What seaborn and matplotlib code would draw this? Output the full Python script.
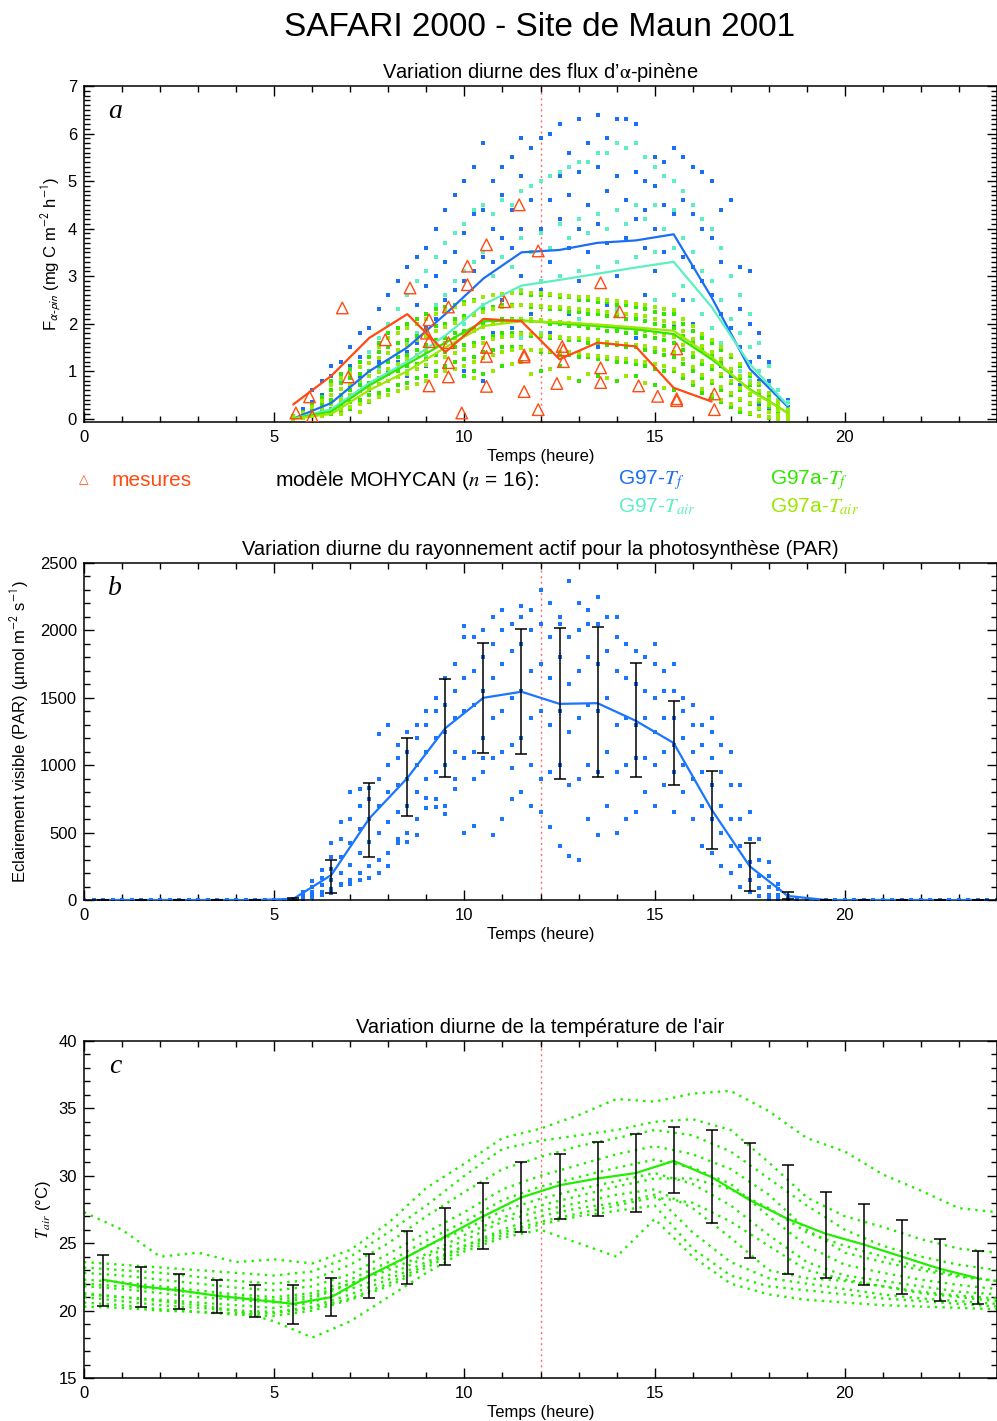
import numpy as np
import pandas as pd
import matplotlib
matplotlib.use("Agg")
import matplotlib.pyplot as plt
import seaborn as sns
from matplotlib.ticker import MultipleLocator

# ---------------- DATA ----------------
# Panel a : alpha-pinene fluxes (mg C m-2 h-1)
flux_hours = [5.5, 6.5, 7.5, 8.5, 9.5, 10.5, 11.5, 12.5, 13.5, 14.5, 15.5, 16.5, 17.5, 18.5]
g97_tf_line = [0.0, 0.33, 1.0, 1.5, 2.2, 2.95, 3.5, 3.55, 3.7, 3.75, 3.88, 2.55, 1.05, 0.25]
g97_tair_line = [0.0, 0.2, 0.75, 1.2, 1.75, 2.4, 2.8, 2.92, 3.05, 3.18, 3.3, 2.35, 1.15, 0.28]
g97a_tf_line = [0.0, 0.15, 0.7, 1.15, 1.6, 2.05, 2.07, 2.0, 1.95, 1.88, 1.78, 1.25, 0.62, 0.12]
g97a_tair_line = [0.0, 0.1, 0.6, 1.0, 1.5, 1.95, 2.05, 2.03, 1.98, 1.92, 1.85, 1.3, 0.6, 0.12]

mes_hours = [5.5, 6.5, 7.5, 8.5, 9.5, 10.5, 11.5, 12.5, 13.5, 14.5, 15.5, 16.5]
mes_line = [0.3, 0.9, 1.7, 2.2, 1.4, 2.1, 2.05, 1.25, 1.6, 1.52, 0.65, 0.36]

mes_t = [5.57, 5.93, 6.0, 6.79, 6.95, 7.92, 8.57, 9.07, 9.0, 9.07, 9.07, 9.58, 9.58, 9.58, 9.58,
         9.93, 10.08, 10.08, 10.58, 10.58, 10.58, 10.58, 11.05, 11.44, 11.57, 11.57, 11.57,
         11.94, 11.94, 12.43, 12.57, 12.6, 12.6, 13.58, 13.58, 13.58, 14.08, 14.58, 15.08,
         15.58, 15.58, 15.58, 16.57, 16.57]
mes_v = [0.12, 0.46, 0.05, 2.33, 0.88, 1.66, 2.75, 2.08, 1.8, 1.62, 0.69, 2.35, 1.6, 1.18, 0.88,
         0.12, 3.21, 2.82, 3.66, 1.5, 1.31, 0.68, 2.46, 4.5, 1.34, 1.3, 0.57,
         3.53, 0.19, 0.74, 1.52, 1.45, 1.2, 2.86, 1.07, 0.76, 2.25, 0.69, 0.47,
         1.47, 0.42, 0.38, 0.52, 0.19]

flux_dot_times = np.arange(5.5, 18.51, 0.25)
g97_tf_dots = [
    [0.02, 0.05, 0.0], [0.1, 0.2, 0.05], [0.35, 0.15, 0.6], [0.5, 0.3, 0.8],
    [0.9, 0.4, 0.6, 1.1], [1.2, 0.5, 0.9], [1.5, 0.7, 1.1], [1.8, 0.9, 1.3],
    [1.9, 1.0, 1.4, 0.6], [2.3, 1.2, 1.6], [2.6, 1.5, 1.0], [2.9, 1.8, 1.2],
    [3.2, 2.0, 1.4, 0.9], [3.4, 2.4, 1.6], [3.6, 2.8, 1.9, 1.1], [4.0, 3.0, 2.1],
    [4.4, 3.3, 2.5, 1.3], [4.7, 3.5, 2.7], [5.0, 3.9, 2.9, 1.0], [5.3, 4.3, 3.1, 1.6],
    [5.8, 4.4, 3.4, 2.3, 0.8], [5.0, 4.0, 3.3, 1.8], [5.3, 4.7, 3.8, 2.5], [5.5, 4.4, 3.6, 1.9],
    [5.9, 5.1, 4.0, 3.0, 1.2], [5.7, 4.6, 3.5, 2.2], [5.9, 5.0, 4.0, 2.7, 1.0], [6.0, 4.6, 3.3, 1.8],
    [6.2, 5.1, 4.2, 3.0, 1.4], [5.6, 4.7, 3.6, 2.2], [6.3, 5.2, 4.0, 2.9], [5.8, 4.5, 3.5, 1.9],
    [6.4, 5.3, 4.1, 3.2, 1.5], [5.9, 4.8, 3.7, 2.4], [6.3, 5.1, 4.4, 3.0], [6.3, 4.6, 3.8, 2.1],
    [6.2, 5.2, 4.2, 3.4, 1.7], [5.0, 4.4, 3.6, 2.6], [5.5, 4.9, 4.0, 3.1], [5.4, 4.5, 3.5, 2.3],
    [5.7, 5.0, 4.3, 3.6, 2.0], [5.5, 4.6, 3.4, 2.5], [5.3, 4.3, 3.2, 2.0], [5.2, 4.0, 2.9, 1.7],
    [5.0, 3.8, 2.6, 1.3], [4.4, 3.3, 2.2, 1.1], [4.6, 3.0, 1.9, 0.9], [3.2, 2.3, 1.5, 0.7],
    [3.1, 2.0, 1.2, 0.5], [1.8, 1.3, 0.8, 0.3], [1.2, 0.8, 0.5, 0.2], [0.6, 0.4, 0.2],
    [0.4, 0.25, 0.1]]
g97_tair_dots = [
    [0.0, 0.02], [0.1, 0.05], [0.25, 0.1], [0.4, 0.2], [0.6, 0.3, 0.15], [0.8, 0.45],
    [1.0, 0.6, 0.35], [1.2, 0.75], [1.4, 0.9, 0.5], [1.7, 1.05], [2.0, 1.2, 0.8], [2.3, 1.4],
    [2.6, 1.6, 1.0], [2.9, 1.8], [3.1, 2.1, 1.3], [3.4, 2.4], [3.7, 2.6, 1.6], [3.9, 2.9],
    [4.1, 3.1, 2.0], [4.4, 3.3], [4.5, 3.5, 2.4, 1.4], [4.3, 3.0, 2.0], [4.6, 3.4, 2.6],
    [4.5, 3.2], [4.8, 3.8, 2.7, 1.7], [4.9, 3.5], [5.0, 3.9, 2.9, 1.8], [5.1, 3.6],
    [5.2, 4.1, 3.0, 2.0], [5.3, 3.8], [5.4, 4.2, 3.1, 2.1], [5.4, 3.9], [5.6, 4.3, 3.2, 2.2],
    [5.6, 4.0], [5.8, 4.4, 3.3, 2.3], [5.7, 4.1], [5.8, 4.5, 3.4, 2.4], [5.5, 4.2],
    [5.3, 4.5, 3.5, 2.5], [5.1, 4.0], [5.0, 4.4, 3.6, 2.6], [4.8, 3.8, 2.8], [4.5, 3.5, 2.5],
    [4.2, 3.1, 2.2], [4.0, 2.9, 1.9], [3.6, 2.5, 1.6], [3.0, 2.1, 1.3], [2.6, 1.8, 1.0],
    [2.2, 1.5, 0.8], [1.6, 1.0, 0.5], [1.1, 0.7, 0.3], [0.6, 0.4, 0.15], [0.35, 0.2, 0.05]]
g97a_tf_dots = [
    [0.0, 0.02, 0.05], [0.05, 0.1, 0.15], [0.1, 0.2, 0.3, 0.05], [0.15, 0.3, 0.45, 0.1],
    [0.2, 0.4, 0.6, 0.8, 0.1], [0.3, 0.5, 0.75, 0.95, 0.15], [0.35, 0.6, 0.85, 1.05, 0.2],
    [0.4, 0.7, 0.95, 1.2, 0.3], [0.5, 0.75, 1.0, 1.3, 0.35], [0.55, 0.85, 1.1, 1.4, 1.6],
    [0.6, 0.95, 1.2, 1.5, 1.8], [0.7, 1.0, 1.3, 1.6, 1.9], [0.75, 1.1, 1.35, 1.65, 2.0],
    [0.85, 1.15, 1.45, 1.75, 2.1], [0.9, 1.25, 1.55, 1.85, 2.2], [1.0, 1.35, 1.65, 1.95, 2.3],
    [1.1, 1.4, 1.7, 2.0, 2.35], [1.2, 1.5, 1.8, 2.1, 2.4], [1.25, 1.55, 1.85, 2.15, 2.45, 0.9],
    [1.3, 1.6, 1.9, 2.2, 2.5, 1.0], [1.4, 1.7, 2.0, 2.3, 2.55, 0.95], [1.45, 1.75, 2.05, 2.35, 2.6],
    [1.5, 1.8, 2.1, 2.4, 2.6, 1.1], [1.5, 1.8, 2.1, 2.4, 2.65], [1.5, 1.8, 2.1, 2.4, 2.65, 1.2],
    [1.45, 1.75, 2.05, 2.35, 2.6], [1.4, 1.75, 2.05, 2.35, 2.6, 1.0], [1.4, 1.7, 2.0, 2.3, 2.6],
    [1.35, 1.7, 2.0, 2.3, 2.55, 1.1], [1.35, 1.65, 1.95, 2.25, 2.55], [1.3, 1.65, 1.95, 2.25, 2.5, 0.8],
    [1.3, 1.6, 1.9, 2.2, 2.5], [1.25, 1.6, 1.9, 2.2, 2.45, 0.9], [1.25, 1.55, 1.85, 2.15, 2.45],
    [1.2, 1.55, 1.85, 2.15, 2.4, 0.8], [1.2, 1.5, 1.8, 2.1, 2.4], [1.15, 1.5, 1.8, 2.1, 2.35, 0.9],
    [1.1, 1.45, 1.75, 2.05, 2.3], [1.05, 1.4, 1.7, 2.0, 2.25, 0.7], [1.0, 1.35, 1.65, 1.95, 2.2],
    [1.0, 1.3, 1.6, 1.9, 2.2, 0.6], [0.85, 1.15, 1.45, 1.75, 2.0], [0.7, 1.0, 1.3, 1.6, 1.85],
    [0.55, 0.85, 1.15, 1.45, 1.7], [0.45, 0.75, 1.05, 1.35, 1.6], [0.35, 0.6, 0.9, 1.2, 1.45],
    [0.25, 0.5, 0.75, 1.0, 1.3], [0.15, 0.4, 0.6, 0.85, 1.1], [0.1, 0.3, 0.5, 0.7, 0.9],
    [0.05, 0.2, 0.35, 0.55, 0.7], [0.02, 0.15, 0.25, 0.4, 0.5], [0.0, 0.08, 0.15, 0.25, 0.35],
    [0.0, 0.04, 0.1, 0.15]]
g97a_tair_dots = [
    [0.0, 0.03], [0.02, 0.08, 0.12], [0.05, 0.15, 0.25], [0.1, 0.22, 0.38, 0.05],
    [0.15, 0.3, 0.5, 0.7], [0.2, 0.4, 0.62, 0.85, 0.1], [0.25, 0.5, 0.72, 0.95],
    [0.3, 0.58, 0.82, 1.08, 0.15], [0.38, 0.65, 0.9, 1.18], [0.45, 0.72, 0.98, 1.28, 1.5],
    [0.5, 0.8, 1.05, 1.38, 1.7], [0.58, 0.88, 1.15, 1.45, 1.8], [0.65, 0.95, 1.25, 1.55, 1.9],
    [0.72, 1.05, 1.35, 1.65, 2.0], [0.8, 1.12, 1.42, 1.75, 2.1], [0.9, 1.2, 1.52, 1.85, 2.2],
    [1.0, 1.3, 1.6, 1.92, 2.28], [1.05, 1.38, 1.7, 2.02, 2.35], [1.1, 1.45, 1.78, 2.1, 2.42],
    [1.2, 1.52, 1.85, 2.18, 2.48, 0.85], [1.28, 1.6, 1.92, 2.25, 2.55], [1.35, 1.68, 2.0, 2.3, 2.6, 1.0],
    [1.4, 1.72, 2.05, 2.35, 2.62], [1.45, 1.75, 2.08, 2.38, 2.65, 1.15], [1.48, 1.78, 2.1, 2.4, 2.68],
    [1.45, 1.78, 2.1, 2.4, 2.65, 0.95], [1.45, 1.76, 2.08, 2.38, 2.65], [1.42, 1.75, 2.06, 2.36, 2.62, 1.05],
    [1.4, 1.72, 2.04, 2.34, 2.6], [1.4, 1.7, 2.02, 2.32, 2.58, 0.85], [1.38, 1.7, 2.0, 2.3, 2.55],
    [1.35, 1.68, 1.98, 2.28, 2.55, 0.95], [1.32, 1.65, 1.96, 2.26, 2.52], [1.3, 1.62, 1.94, 2.24, 2.5, 0.85],
    [1.28, 1.6, 1.92, 2.22, 2.48], [1.25, 1.58, 1.9, 2.2, 2.45, 0.9], [1.22, 1.55, 1.88, 2.18, 2.42],
    [1.2, 1.52, 1.85, 2.15, 2.4, 0.75], [1.15, 1.48, 1.8, 2.1, 2.35], [1.1, 1.45, 1.76, 2.06, 2.3, 0.65],
    [1.05, 1.4, 1.72, 2.02, 2.28], [0.92, 1.25, 1.55, 1.85, 2.1], [0.78, 1.08, 1.38, 1.68, 1.95],
    [0.62, 0.92, 1.22, 1.52, 1.78], [0.5, 0.8, 1.1, 1.4, 1.65], [0.4, 0.66, 0.95, 1.25, 1.5],
    [0.3, 0.55, 0.8, 1.05, 1.35], [0.2, 0.42, 0.65, 0.9, 1.15], [0.12, 0.32, 0.52, 0.75, 0.95],
    [0.06, 0.22, 0.4, 0.58, 0.75], [0.03, 0.15, 0.28, 0.42, 0.55], [0.0, 0.08, 0.18, 0.28, 0.38],
    [0.0, 0.05, 0.1, 0.18]]

# Panel b : PAR (umol m-2 s-1)
hours_mid = np.arange(0.5, 24, 1.0)
par_line = [0, 0, 0, 0, 0, 8, 185, 605, 905, 1275, 1500, 1545, 1455, 1460, 1330, 1165, 670, 250, 30, 0, 0, 0, 0, 0]
par_lo = [0, 0, 0, 0, 0, 0, 50, 320, 620, 910, 1090, 1080, 900, 910, 910, 850, 375, 70, 10, 0, 0, 0, 0, 0]
par_hi = [0, 0, 0, 0, 0, 12, 300, 870, 1200, 1640, 1910, 2010, 2020, 2025, 1755, 1475, 960, 420, 60, 0, 0, 0, 0, 0]
par_dot_times = np.arange(0.0, 24.01, 0.25)
par_day_dots = [
    [0, 5, 10], [10, 25, 40, 60], [30, 60, 100, 140, 20], [60, 110, 160, 220, 40],
    [80, 150, 230, 320, 420, 50], [120, 200, 320, 450, 580, 110], [150, 260, 420, 600, 800, 120],
    [200, 350, 530, 700, 820, 150], [250, 430, 600, 750, 830, 160], [300, 500, 700, 900, 1230, 200],
    [350, 580, 800, 1000, 1300, 250], [450, 650, 850, 1050, 1150, 420], [500, 700, 900, 1100, 1250, 430],
    [600, 800, 1000, 1200, 1300, 480], [680, 900, 1100, 1300, 1400, 760], [750, 950, 1200, 1400, 1500, 690],
    [700, 1000, 1250, 1450, 1650, 640], [820, 1100, 1350, 1550, 1750, 900], [500, 1050, 1400, 1650, 1950, 2030],
    [550, 1100, 1450, 1700, 1950, 900], [950, 1200, 1550, 1800, 2000, 1050], [480, 1050, 1350, 1650, 1900, 2100],
    [600, 1100, 1400, 1750, 2000, 2150], [750, 1150, 1500, 1850, 2050, 980], [800, 1200, 1550, 1900, 2100, 2180],
    [700, 1000, 1350, 1700, 2000, 2150], [650, 900, 1400, 1750, 2050, 2300], [540, 950, 1300, 1650, 1950, 2200],
    [400, 1000, 1400, 1800, 2100, 2050], [330, 850, 1250, 1600, 1950, 2370], [300, 900, 1350, 1700, 2000, 2200],
    [600, 1000, 1450, 1800, 2050, 2150], [480, 950, 1400, 1750, 2050, 2250], [700, 1100, 1500, 1850, 2100],
    [500, 950, 1300, 1700, 1950, 2100], [600, 1000, 1350, 1650, 1900], [650, 1050, 1300, 1600, 1850],
    [800, 1050, 1350, 1550, 1800], [700, 1000, 1250, 1500, 1750, 1900], [850, 1100, 1350, 1550, 1700],
    [650, 950, 1150, 1350, 1550, 1750], [800, 1000, 1200, 1400, 1500], [600, 900, 1100, 1300, 1450],
    [400, 700, 950, 1150, 1300], [350, 600, 850, 1050, 1250, 1350], [250, 500, 700, 950, 1150],
    [200, 400, 600, 850, 1100], [100, 250, 400, 600, 850], [60, 150, 280, 450, 650],
    [30, 90, 180, 300, 450], [10, 40, 100, 180, 280], [0, 15, 40, 80, 120], [0, 5, 15, 30], [0, 2, 5]]
par_dots = [[0]] * 22 + par_day_dots + [[0]] * 21

# Panel c : air temperature (deg C)
temp_hours = np.arange(0, 25, 1)
temp_days = [
    [27.3, 26.0, 24.0, 24.3, 23.6, 23.8, 23.5, 24.5, 26.5, 29.1, 30.9, 32.8, 33.5, 34.5, 35.7, 35.5, 36.1, 36.3, 34.8, 32.8, 31.8, 30.1, 28.9, 27.6, 27.3],
    [23.6, 23.4, 23.2, 23.0, 22.8, 22.6, 22.9, 24.0, 25.8, 27.8, 30.0, 32.0, 32.6, 33.0, 33.4, 34.0, 34.2, 33.4, 31.0, 28.4, 27.0, 26.2, 25.3, 24.6, 24.3],
    [23.2, 23.0, 22.8, 22.5, 22.2, 22.0, 22.3, 23.4, 25.0, 27.0, 28.8, 30.5, 31.4, 32.2, 32.8, 33.4, 33.0, 31.8, 29.8, 27.8, 26.0, 24.8, 24.0, 23.4, 23.0],
    [22.8, 22.6, 22.3, 22.0, 21.7, 21.5, 21.8, 22.7, 24.2, 25.8, 27.3, 29.0, 30.0, 30.8, 31.6, 32.2, 31.6, 30.5, 28.6, 26.0, 24.3, 23.6, 23.0, 22.5, 22.2],
    [22.3, 22.1, 21.8, 21.5, 21.2, 21.0, 21.3, 22.3, 23.6, 25.2, 26.6, 28.2, 29.2, 29.9, 30.6, 31.2, 30.6, 29.4, 27.0, 24.8, 23.4, 22.8, 22.3, 21.9, 21.6],
    [21.8, 21.6, 21.3, 21.0, 20.8, 20.6, 20.9, 22.0, 23.2, 24.8, 26.0, 27.4, 28.3, 29.0, 29.6, 30.2, 29.4, 27.8, 25.6, 23.6, 22.6, 22.2, 21.8, 21.4, 21.2],
    [21.3, 21.0, 20.8, 20.6, 20.4, 20.2, 20.6, 21.6, 22.6, 24.0, 25.2, 26.6, 27.4, 28.0, 28.6, 29.0, 27.6, 25.4, 23.0, 22.4, 22.2, 21.8, 21.4, 21.1, 20.9],
    [21.0, 20.7, 20.4, 20.2, 20.0, 19.9, 20.3, 21.2, 22.3, 23.6, 24.8, 26.0, 27.0, 27.6, 28.0, 28.6, 25.8, 23.6, 22.4, 22.0, 21.6, 21.2, 20.9, 20.7, 20.5],
    [20.6, 20.4, 20.1, 19.9, 19.7, 19.6, 20.0, 20.8, 21.8, 23.2, 24.6, 25.6, 26.4, 27.0, 27.4, 27.8, 24.6, 22.6, 21.8, 21.5, 21.2, 20.9, 20.7, 20.5, 20.3],
    [21.2, 21.0, 20.7, 20.4, 20.0, 19.2, 18.0, 19.2, 21.0, 22.8, 24.4, 25.4, 26.0, 25.0, 24.0, 26.8, 24.0, 22.0, 21.2, 20.8, 20.6, 20.4, 20.3, 20.2, 20.1],
    [22.0, 21.8, 21.6, 21.3, 21.0, 20.8, 21.1, 22.0, 23.0, 24.2, 25.6, 26.9, 27.8, 28.5, 29.2, 29.8, 29.8, 29.0, 27.6, 25.8, 24.8, 24.0, 23.2, 22.6, 22.2],
    [20.3, 20.2, 20.0, 19.9, 19.8, 19.8, 20.2, 20.9, 22.0, 23.4, 24.8, 25.8, 26.6, 27.2, 27.8, 28.4, 28.0, 26.6, 24.8, 23.0, 22.3, 21.8, 21.3, 21.0, 20.7],
]
temp_line = [22.3, 21.8, 21.5, 21.1, 20.8, 20.5, 21.0, 22.6, 24.0, 25.5, 27.0, 28.4, 29.3, 29.8, 30.2, 31.1, 29.9, 28.2, 26.8, 25.7, 24.9, 24.0, 23.1, 22.4]
temp_lo = [20.35, 20.3, 20.1, 19.8, 19.5, 19.0, 19.6, 20.9, 22.0, 23.4, 24.6, 25.8, 26.8, 27.0, 27.3, 28.7, 26.5, 23.9, 22.7, 22.4, 21.9, 21.2, 20.7, 20.5]
temp_hi = [24.1, 23.2, 22.7, 22.3, 21.9, 21.9, 22.4, 24.2, 25.9, 27.6, 29.5, 31.0, 31.6, 32.5, 33.1, 33.6, 33.4, 32.4, 30.8, 28.8, 27.9, 26.7, 25.3, 24.4]

# ---------------- STYLE ----------------
sns.set_theme(style="ticks", rc={
    "axes.edgecolor": "black", "axes.linewidth": 1.1,
    "xtick.color": "black", "ytick.color": "black",
    "text.color": "black", "axes.labelcolor": "black",
})
plt.rcParams["font.family"] = ["Liberation Sans", "DejaVu Sans"]
plt.rcParams["mathtext.fontset"] = "stix"

C_BLUE = "#1a6ff5"
C_CYAN = "#5cefc2"
C_GREEN = "#33e600"
C_YG = "#9be800"
C_RED = "#ff4a12"
C_PAR = "#1a75ff"
C_TEMP = "#22ee00"
C_NOON = "#ff6a6a"
DOT_SIZE = 6


def columns_frame(times, cols):
    rows = [(t, v) for t, col in zip(times, cols) for v in col]
    return pd.DataFrame(rows, columns=["heure", "valeur"])


fig = plt.figure(figsize=(9.97, 14.21), dpi=100)
W, H = 997.0, 1421.0


def make_axes(top, bottom):
    return fig.add_axes([84 / W, 1 - bottom / H, (997 - 84) / W, (bottom - top) / H])


def style_axes(ax, ymaj, ymin, title, ylabel, ylab_x, letter):
    ax.set_xlim(0, 24)
    ax.xaxis.set_major_locator(MultipleLocator(5))
    ax.xaxis.set_minor_locator(MultipleLocator(1))
    ax.yaxis.set_major_locator(MultipleLocator(ymaj))
    ax.yaxis.set_minor_locator(MultipleLocator(ymin))
    ax.tick_params(which="both", direction="in", top=True, right=True, bottom=True, left=True,
                   labelsize=12, width=1.0)
    ax.tick_params(which="major", length=7, pad=5)
    ax.tick_params(which="minor", length=4)
    ax.tick_params(axis="x", which="major", pad=6)
    ax.set_xlabel("Temps (heure)", fontsize=12, labelpad=3)
    ax.set_ylabel(ylabel, fontsize=12)
    ax.yaxis.set_label_coords(ylab_x, 0.5)
    ax.set_title(title, fontsize=14.5, pad=6)
    ax.text(0.034, 0.925, letter, transform=ax.transAxes, fontsize=20, style="italic",
            family=["Liberation Serif", "DejaVu Serif"], ha="center", va="center")
    ax.axvline(12, color=C_NOON, lw=1.0, ls=(0, (1.5, 2.5)), zorder=0.5)
    for s in ax.spines.values():
        s.set_visible(True)


# ---------------- PANEL a ----------------
ax1 = make_axes(86, 422)
for cols, col in [(g97_tf_dots, C_BLUE), (g97_tair_dots, C_CYAN),
                  (g97a_tf_dots, C_GREEN), (g97a_tair_dots, C_YG)]:
    df = columns_frame(flux_dot_times, cols)
    sns.scatterplot(data=df, x="heure", y="valeur", ax=ax1, color=col, marker="s", s=DOT_SIZE,
                    linewidth=0, legend=False, zorder=2)
for vals, col in [(g97_tf_line, C_BLUE), (g97_tair_line, C_CYAN),
                  (g97a_tf_line, C_GREEN), (g97a_tair_line, C_YG)]:
    sns.lineplot(x=flux_hours, y=vals, ax=ax1, color=col, lw=1.6, estimator=None, zorder=3)
sns.lineplot(x=mes_hours, y=mes_line, ax=ax1, color=C_RED, lw=1.6, estimator=None, zorder=4)
ax1.scatter(mes_t, mes_v, marker="^", s=70, facecolors="none", edgecolors=C_RED, linewidths=1.0, zorder=5)
ax1.set_ylim(-0.07, 7.0)
style_axes(ax1, 1, 0.1, "Variation diurne des flux d’$\\mathrm{\\alpha}$-pinène",
           r"F$_{\mathsf{\alpha\text{-}pin}}$ (mg C m$^{\mathsf{-2}}$ h$^{\mathsf{-1}}$)", -0.022, "a")

# legend row
fy1 = 1 - 480 / H
fy2 = 1 - 507 / H
fig.text(84 / W, fy1, "△", color=C_RED, fontsize=9, ha="center", va="center",
         family=["DejaVu Sans"])
fig.text(112 / W, fy1, "mesures", color=C_RED, fontsize=15, ha="left", va="center")
fig.text(275 / W, fy1, "modèle MOHYCAN ($n$ = 16):", color="black", fontsize=15, ha="left", va="center")
fig.text(618 / W, fy1, "G97-$T_f$", color=C_BLUE, fontsize=15, ha="left", va="center")
fig.text(770 / W, fy1, "G97a-$T_f$", color=C_GREEN, fontsize=15, ha="left", va="center")
fig.text(618 / W, fy2, "G97-$T_{air}$", color=C_CYAN, fontsize=15, ha="left", va="center")
fig.text(770 / W, fy2, "G97a-$T_{air}$", color=C_YG, fontsize=15, ha="left", va="center")

# ---------------- PANEL b ----------------
ax2 = make_axes(563, 900)
df_par = columns_frame(par_dot_times, par_dots)
sns.scatterplot(data=df_par, x="heure", y="valeur", ax=ax2, color=C_PAR, marker="s", s=DOT_SIZE,
                linewidth=0, legend=False, zorder=2)
sns.lineplot(x=hours_mid, y=par_line, ax=ax2, color=C_PAR, lw=1.6, estimator=None, zorder=3)
plo, phi = np.array(par_lo, float), np.array(par_hi, float)
ax2.errorbar(hours_mid, (plo + phi) / 2, yerr=(phi - plo) / 2, fmt="none", ecolor="black",
             elinewidth=1.1, capsize=4, capthick=1.1, zorder=4)
ax2.set_ylim(0, 2500)
style_axes(ax2, 500, 100, "Variation diurne du rayonnement actif pour la photosynthèse (PAR)",
           r"Eclairement visible (PAR) (µmol m$^{\mathsf{-2}}$ s$^{\mathsf{-1}}$)", -0.058, "b")

# ---------------- PANEL c ----------------
ax3 = make_axes(1041, 1378)
rows = [(h, v, d) for d, day in enumerate(temp_days) for h, v in zip(temp_hours, day)]
df_t = pd.DataFrame(rows, columns=["heure", "T", "jour"])
sns.lineplot(data=df_t, x="heure", y="T", units="jour", estimator=None, ax=ax3, color=C_TEMP,
             lw=1.7, linestyle=(0, (1, 2.2)), legend=False, zorder=2)
sns.lineplot(x=hours_mid, y=temp_line, ax=ax3, color=C_TEMP, lw=1.6, estimator=None, zorder=3)
tlo, thi = np.array(temp_lo), np.array(temp_hi)
ax3.errorbar(hours_mid, (tlo + thi) / 2, yerr=(thi - tlo) / 2, fmt="none", ecolor="black",
             elinewidth=1.1, capsize=4, capthick=1.1, zorder=4)
ax3.set_ylim(15, 40)
style_axes(ax3, 5, 1, "Variation diurne de la température de l'air",
           r"$T_{air}$ (°C)", -0.034, "c")

fig.text(540 / W, 1 - 27 / H, "SAFARI 2000 - Site de Maun 2001", fontsize=24,
         ha="center", va="center")

fig.savefig("out.png", dpi=100)
